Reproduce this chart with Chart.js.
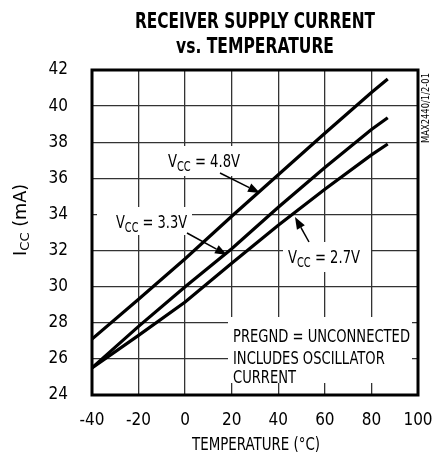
<!DOCTYPE html>
<html>
<head>
<meta charset="utf-8">
<script src="https://cdn.jsdelivr.net/npm/chart.js@4.4.1/dist/chart.umd.min.js"></script>
<style>
  html, body { margin: 0; padding: 0; background: #fff; }
</style>
</head>
<body>
<canvas id="chart" width="432" height="453"></canvas>
<script>
// temperature (degC) and supply current (mA)
const temps = [-40, -20, 0, 20, 40, 60, 80, 87];
const icc48 = [27.1, 29.3, 31.55, 33.9, 36.2, 38.5, 40.75, 41.5];
const icc33 = [25.5, 27.8, 30.0, 32.1, 34.4, 36.6, 38.7, 39.36];
const icc27 = [25.5, 27.3, 29.15, 31.3, 33.4, 35.4, 37.3, 37.9];
const seriesNames = ['4.8V', '3.3V', '2.7V'];
const xTicks = [-40, -20, 0, 20, 40, 60, 80, 100];
const yTicks = [24, 26, 28, 30, 32, 34, 36, 38, 40, 42];
const noteLines = ['PREGND = UNCONNECTED', 'INCLUDES OSCILLATOR', 'CURRENT'];

const FAM = "'Liberation Sans Narrow', 'DejaVu Sans Condensed', 'Roboto Condensed', 'Liberation Sans', sans-serif";

function points(vals) {
    return temps.map((t, i) => ({ x: t, y: vals[i] }));
}

// draws "main" + subscript + rest, squeezed to the given width
function subText(ctx, x, y, a, s, b, size, width, align) {
    ctx.font = size + 'px ' + FAM;
    const wa = ctx.measureText(a).width, wb = ctx.measureText(b).width;
    ctx.font = (size * 0.75) + 'px ' + FAM;
    const ws = ctx.measureText(s).width;
    const tot = wa + ws + wb;
    const sx = width ? width / tot : 1;
    ctx.save();
    ctx.translate(x, y);
    ctx.scale(sx, 1);
    let cx = align === 'center' ? -tot / 2 : 0;
    ctx.textAlign = 'left';
    ctx.textBaseline = 'alphabetic';
    ctx.fillStyle = '#000';
    ctx.font = size + 'px ' + FAM; ctx.fillText(a, cx, 0); cx += wa;
    ctx.font = (size * 0.75) + 'px ' + FAM; ctx.fillText(s, cx, size * 0.2); cx += ws;
    ctx.font = size + 'px ' + FAM; ctx.fillText(b, cx, 0);
    ctx.restore();
}

function fitText(ctx, text, x, y, font, width, align) {
    ctx.font = font;
    const w = ctx.measureText(text).width;
    ctx.save();
    ctx.translate(x, y);
    ctx.scale(width / w, 1);
    ctx.textAlign = align || 'left';
    ctx.textBaseline = 'alphabetic';
    ctx.fillStyle = '#000';
    ctx.fillText(text, 0, 0);
    ctx.restore();
}

function arrow(ctx, x0, y0, x1, y1) {
    const ang = Math.atan2(y1 - y0, x1 - x0);
    const len = 12, half = 4.5;
    ctx.save();
    ctx.strokeStyle = '#000';
    ctx.fillStyle = '#000';
    ctx.lineWidth = 1.5;
    ctx.beginPath();
    ctx.moveTo(x0, y0);
    ctx.lineTo(x1 - Math.cos(ang) * len, y1 - Math.sin(ang) * len);
    ctx.stroke();
    ctx.beginPath();
    ctx.moveTo(x1, y1);
    ctx.lineTo(x1 - Math.cos(ang) * len - Math.sin(ang) * half, y1 - Math.sin(ang) * len + Math.cos(ang) * half);
    ctx.lineTo(x1 - Math.cos(ang) * len + Math.sin(ang) * half, y1 - Math.sin(ang) * len - Math.cos(ang) * half);
    ctx.closePath();
    ctx.fill();
    ctx.restore();
}

const annotations = {
    id: 'annotations',
    beforeDatasetsDraw(chart) {
        const ctx = chart.ctx;
        ctx.save();
        ctx.fillStyle = '#fff';
        // blank the grid behind the labels
        ctx.fillRect(163, 146, 84, 30);
        ctx.fillRect(97, 207, 95, 28);
        ctx.fillRect(283, 242, 88, 30);
        ctx.fillRect(228, 317, 184, 66);
        ctx.restore();
    },
    afterDatasetsDraw(chart) {
        const ctx = chart.ctx;
        const a = chart.chartArea;

        // frame
        ctx.save();
        ctx.strokeStyle = '#000';
        ctx.lineWidth = 3;
        ctx.strokeRect(a.left, a.top, a.right - a.left, a.bottom - a.top);
        ctx.restore();

        // curve labels
        subText(ctx, 168, 167, 'V', 'CC', ' = ' + seriesNames[0], 18, 72);
        subText(ctx, 116, 228, 'V', 'CC', ' = ' + seriesNames[1], 18, 71);
        subText(ctx, 288, 263, 'V', 'CC', ' = ' + seriesNames[2], 18, 72);
        arrow(ctx, 220, 173, 260, 193);
        arrow(ctx, 187, 233, 227, 255);
        arrow(ctx, 309, 242, 295, 217);

        // note
        ctx.font = '18px ' + FAM;
        const sx = 177 / ctx.measureText(noteLines[0]).width;
        const base = [342, 364, 383];
        noteLines.forEach((t, i) => {
            ctx.save();
            ctx.translate(233, base[i]);
            ctx.scale(sx, 1);
            ctx.fillStyle = '#000';
            ctx.textAlign = 'left';
            ctx.fillText(t, 0, 0);
            ctx.restore();
        });
    },
    afterDraw(chart) {
        const ctx = chart.ctx;
        // title
        fitText(ctx, 'RECEIVER SUPPLY CURRENT', 255, 28, 'bold 22px ' + FAM, 240, 'center');
        fitText(ctx, 'vs. TEMPERATURE', 255, 53, 'bold 22px ' + FAM, 158, 'center');

        // x axis title
        fitText(ctx, 'TEMPERATURE (°C)', 256, 450, '17px ' + FAM, 128, 'center');

        // y axis title
        ctx.save();
        ctx.translate(26, 220);
        ctx.rotate(-Math.PI / 2);
        subText(ctx, 0, 0, 'I', 'CC', ' (mA)', 17, 72, 'center');
        ctx.restore();

        // figure code
        ctx.save();
        ctx.translate(429, 108);
        ctx.rotate(-Math.PI / 2);
        fitText(ctx, 'MAX2440/1/2-01', 0, 0, '10px ' + FAM, 70, 'center');
        ctx.restore();
    }
};

const line = (vals) => ({
    data: points(vals),
    borderColor: '#000',
    borderWidth: 3.2,
    pointRadius: 0,
    tension: 0,
    fill: false
});

new Chart(document.getElementById('chart'), {
    type: 'line',
    data: {
        datasets: [line(icc48), line(icc33), line(icc27)]
    },
    options: {
        responsive: false,
        animation: false,
        layout: { padding: { top: 70, right: 14, left: 0, bottom: 0 } },
        plugins: {
            legend: { display: false },
            tooltip: { enabled: false }
        },
        scales: {
            x: {
                type: 'linear',
                min: xTicks[0],
                max: xTicks[xTicks.length - 1],
                afterBuildTicks: (s) => { s.ticks = xTicks.map(v => ({ value: v })); },
                afterFit: (s) => { s.height = 58; s.paddingLeft = 0; s.paddingRight = 0; },
                ticks: { color: '#000', font: { family: FAM, size: 17 }, padding: 15, maxRotation: 0 },
                grid: { color: '#333', lineWidth: 1.3, drawTicks: false },
                border: { display: false }
            },
            y: {
                min: yTicks[0],
                max: yTicks[yTicks.length - 1],
                afterBuildTicks: (s) => { s.ticks = yTicks.map(v => ({ value: v })); },
                afterFit: (s) => { s.width = 92; s.paddingTop = 0; s.paddingBottom = 0; },
                ticks: { color: '#000', font: { family: FAM, size: 17 }, padding: 24 },
                grid: { color: '#333', lineWidth: 1.3, drawTicks: false },
                border: { display: false }
            }
        }
    },
    plugins: [annotations]
});
</script>
</body>
</html>
